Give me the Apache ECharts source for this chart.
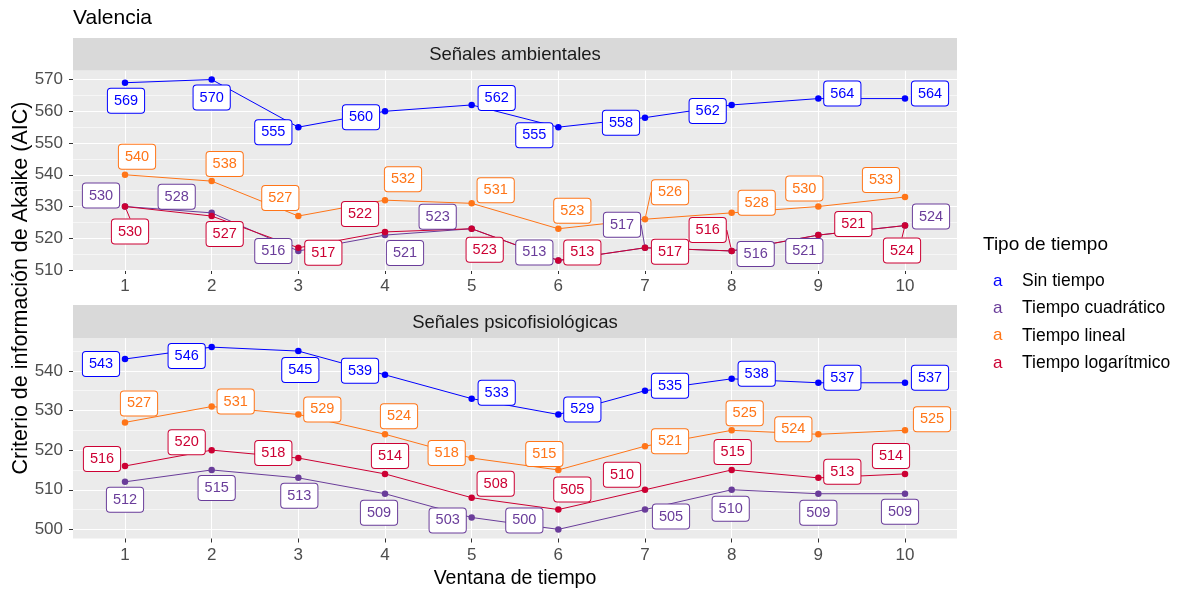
<!DOCTYPE html>
<html>
<head>
<meta charset="utf-8">
<script src="https://cdn.jsdelivr.net/npm/echarts@6/dist/echarts.min.js"></script>
<style>
  html, body { margin: 0; padding: 0; background: #fff; }
  #chart { width: 1178px; height: 593px; }
</style>
</head>
<body>
<div id="chart"></div>
<script>
// ---- data ----
const ventanas = [1, 2, 3, 4, 5, 6, 7, 8, 9, 10];
const tipos = ['Sin tiempo', 'Tiempo cuadrático', 'Tiempo lineal', 'Tiempo logarítmico'];
const paneles = ['Señales ambientales', 'Señales psicofisiológicas'];

// Señales ambientales
const ambSinTiempo   = [569, 570, 555, 560, 562, 555, 558, 562, 564, 564];
const ambCuadratico  = [530, 528, 516, 521, 523, 513, 517, 516, 521, 524];
const ambLineal      = [540, 538, 527, 532, 531, 523, 526, 528, 530, 533];
const ambLogaritmico = [530, 527, 517, 522, 523, 513, 517, 516, 521, 524];

// Señales psicofisiológicas
const psiSinTiempo   = [543, 546, 545, 539, 533, 529, 535, 538, 537, 537];
const psiCuadratico  = [512, 515, 513, 509, 503, 500, 505, 510, 509, 509];
const psiLineal      = [527, 531, 529, 524, 518, 515, 521, 525, 524, 525];
const psiLogaritmico = [516, 520, 518, 514, 508, 505, 510, 515, 513, 514];

const yTicksAmb = [510, 520, 530, 540, 550, 560, 570];
const yTicksPsi = [500, 510, 520, 530, 540];

// ---- label placement (pixel nudges from each point) ----
const nudgeAmb = [
  [[1,18],[0,18],[-25,5],[-24,6],[25,-7],[-24,8],[-24,5],[-24,6],[24,-5],[25,-5]],
  [[-24,-11],[-35,-16],[-25,0],[20,18],[-34,-12],[-24,-8],[-23,-23],[24,3],[-14,16],[26,-9]],
  [[12,-18],[13,-17],[-18,-18],[18,-21],[24,-13],[14,-18],[25,-27],[25,-10],[-14,-18],[-24,-17]],
  [[5,25],[13,18],[25,5],[-25,-18],[13,21],[24,-8],[25,4],[-24,-21],[35,-11],[-3,25]]
];
const nudgePsi = [
  [[-24,5],[-25,9],[2,19],[-25,-4],[25,-6],[24,-5],[25,-5],[25,-5],[24,-5],[25,-5]],
  [[0,18],[5,18],[1,18],[-6,19],[-24,3],[-34,-9],[26,7],[-1,19],[0,19],[-5,18]],
  [[14,-19],[24,-5],[24,-5],[14,-18],[-25,-5],[-14,-16],[25,-5],[13,-17],[-25,-5],[27,-11]],
  [[-23,-7],[-25,-8],[-25,-5],[5,-18],[24,-14],[14,-20],[-23,-15],[1,-18],[24,-6],[-14,-18]]
];
// labels that sit far enough away to get a connecting segment
const segAmb = [[], [6], [6], [0, 7, 9]];
const segPsi = [[], [], [], []];

// ---- styling ----
const colores = ['#0000FF', '#6A3D9A', '#FF7518', '#CC0033'];
const FONT = '"Liberation Sans", Arial, sans-serif';
const PANEL_LEFT = 73, PANEL_W = 884;
const gridsPos = [
  { top: 70.5, height: 199.5 },
  { top: 338, height: 200.5 }
];
const stripPos = [
  { y: 38, h: 32.5 },
  { y: 305, h: 33 }
];

const valoresPorPanel = [
  [ambSinTiempo, ambCuadratico, ambLineal, ambLogaritmico],
  [psiSinTiempo, psiCuadratico, psiLineal, psiLogaritmico]
];
const nudges = [nudgeAmb, nudgePsi];
const segs = [segAmb, segPsi];
const yTicks = [yTicksAmb, yTicksPsi];

// continuous-scale expansion of 5% on each side, keeping the outer breaks inside
function rango(series, ticks) {
  const all = [].concat(...series);
  const lo = Math.min(...all), hi = Math.max(...all);
  const pad = (hi - lo) * 0.05;
  return [Math.min(lo - pad, ticks[0]), Math.max(hi + pad, ticks[ticks.length - 1])];
}
function medios(ticks, lo, hi) {
  const out = [];
  for (let i = 0; i < ticks.length - 1; i++) out.push((ticks[i] + ticks[i + 1]) / 2);
  const step = ticks[1] - ticks[0];
  if (ticks[ticks.length - 1] + step / 2 <= hi) out.push(ticks[ticks.length - 1] + step / 2);
  if (ticks[0] - step / 2 >= lo) out.unshift(ticks[0] - step / 2);
  return out;
}

const grid = [], xAxis = [], yAxis = [], series = [];
const graphics = [];

for (let p = 0; p < 2; p++) {
  grid.push({
    left: PANEL_LEFT, width: PANEL_W, top: gridsPos[p].top, height: gridsPos[p].height,
    show: true, backgroundColor: '#EBEBEB', borderWidth: 0, containLabel: false
  });
  xAxis.push({
    type: 'value', gridIndex: p, min: 0.4, max: 10.6,
    axisLine: { show: false },
    axisTick: { show: true, customValues: ventanas, length: 4, lineStyle: { color: '#333333', width: 1 } },
    axisLabel: { customValues: ventanas, fontSize: 17, color: '#4D4D4D', fontFamily: FONT, margin: 8 },
    splitLine: { show: true, lineStyle: { color: '#FFFFFF', width: 1.1 } }
  });
  const [lo, hi] = rango(valoresPorPanel[p], yTicks[p]);
  yAxis.push({
    type: 'value', gridIndex: p, min: lo, max: hi,
    axisLine: { show: false },
    axisTick: { show: true, customValues: yTicks[p], length: 4, lineStyle: { color: '#333333', width: 1 } },
    axisLabel: { customValues: yTicks[p], fontSize: 17, color: '#4D4D4D', fontFamily: FONT, margin: 10 },
    splitLine: { show: true, lineStyle: { color: '#FFFFFF', width: 1.1 } },
    z: 1
  });
  // minor grid lines
  yAxis.push({
    type: 'value', gridIndex: p, min: lo, max: hi,
    axisLine: { show: false },
    axisTick: { show: false, customValues: medios(yTicks[p], lo, hi) },
    axisLabel: { show: false },
    splitLine: { show: true, lineStyle: { color: '#FFFFFF', width: 0.55 } },
    z: 0
  });

  // facet strip
  graphics.push({
    type: 'rect', silent: true, z: 5,
    shape: { x: PANEL_LEFT, y: stripPos[p].y, width: PANEL_W, height: stripPos[p].h },
    style: { fill: '#D9D9D9' }
  });
  graphics.push({
    type: 'text', silent: true, z: 6,
    style: {
      text: paneles[p], x: PANEL_LEFT + PANEL_W / 2, y: stripPos[p].y + stripPos[p].h / 2 + 1,
      align: 'center', verticalAlign: 'middle', fill: '#1A1A1A', font: '18.5px ' + FONT
    }
  });

  for (let s = 0; s < 4; s++) {
    const vals = valoresPorPanel[p][s];
    const off = nudges[p][s];
    const segIdx = segs[p][s];
    const color = colores[s];
    series.push({
      name: tipos[s],
      type: 'line',
      xAxisIndex: p,
      yAxisIndex: p * 2,
      symbol: 'circle',
      symbolSize: 6.5,
      showAllSymbol: true,
      color: color,
      lineStyle: { color: color, width: 1 },
      itemStyle: { color: color },
      emphasis: { disabled: true },
      data: ventanas.map((v, i) => ({
        value: [v, vals[i]],
        labelLine: { show: segIdx.indexOf(i) >= 0, lineStyle: { color: color, width: 1 } }
      })),
      label: {
        show: true,
        position: 'inside',
        formatter: (d) => String(d.value[1]),
        fontSize: 14.5,
        fontFamily: FONT,
        color: color,
        backgroundColor: '#FFFFFF',
        borderColor: color,
        borderWidth: 1,
        borderRadius: 3,
        padding: [5, 6, 4, 6],
        lineHeight: 15
      },
      labelLayout: (params) => ({
        dx: off[params.dataIndex][0],
        dy: off[params.dataIndex][1]
      }),
      z: 3
    });
  }
}

// titles and axis names
graphics.push({
  type: 'text', silent: true,
  style: { text: 'Valencia', x: 73, y: 18, align: 'left', verticalAlign: 'middle', fill: '#000000', font: '21px ' + FONT }
});
graphics.push({
  type: 'text', silent: true,
  x: 21, y: 288, rotation: Math.PI / 2,
  style: { text: 'Criterio de información de Akaike (AIC)', x: 0, y: 0, align: 'center', verticalAlign: 'middle', fill: '#000000', font: '21.5px ' + FONT }
});
graphics.push({
  type: 'text', silent: true,
  style: { text: 'Ventana de tiempo', x: PANEL_LEFT + PANEL_W / 2, y: 579, align: 'center', verticalAlign: 'middle', fill: '#000000', font: '19.5px ' + FONT }
});
graphics.push({
  type: 'text', silent: true,
  style: { text: 'Tipo de tiempo', x: 983, y: 245, align: 'left', verticalAlign: 'middle', fill: '#000000', font: '19px ' + FONT }
});

const richKeys = {};
tipos.forEach((t, i) => {
  richKeys['k' + i] = { color: colores[i], fontSize: 17, fontFamily: FONT, width: 29 };
});
richKeys.t = { color: '#000000', fontSize: 17.5, fontFamily: FONT };

const option = {
  animation: false,
  grid: grid,
  xAxis: xAxis,
  yAxis: yAxis,
  series: series,
  legend: {
    data: tipos,
    orient: 'vertical',
    left: 988,
    top: 271,
    padding: 0,
    itemWidth: 0,
    itemHeight: 0,
    itemGap: 7.4,
    icon: 'rect',
    selectedMode: false,
    formatter: (name) => '{k' + tipos.indexOf(name) + '|a}{t|' + name + '}',
    textStyle: { fontSize: 17, lineHeight: 20, fontFamily: FONT, rich: richKeys }
  },
  graphic: graphics
};

const chart = echarts.init(document.getElementById('chart'), null, { renderer: 'canvas' });
chart.setOption(option);
</script>
</body>
</html>
